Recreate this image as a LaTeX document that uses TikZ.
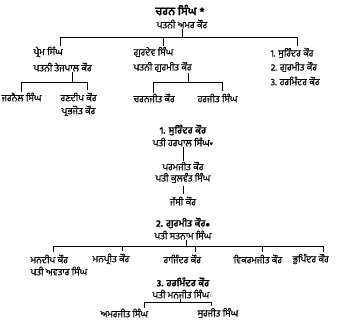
\documentclass[tikz,border=0pt]{standalone}
\usepackage{fontspec}
\newfontfamily\gurmukhi[Script=Gurmukhi, FakeBold=0.5]{Hind Jalandhar}
\newfontfamily\symfont{DejaVu Sans}

\begin{document}
\begin{tikzpicture}[x=1pt,y=-1pt]
\tikzstyle{nm}=[inner sep=0.5pt, font=\gurmukhi\fontsize{9.5}{10}\selectfont]
\tikzstyle{hd}=[inner sep=0.5pt, font=\gurmukhi\bfseries\fontsize{9.5}{10}\selectfont]
\tikzstyle{top}=[inner sep=0.5pt, font=\gurmukhi\bfseries\fontsize{11}{12}\selectfont]
\tikzstyle{ln}=[line width=0.7pt]
\tikzstyle{dr}=[line width=0.7pt, shorten >=1.5pt]
\useasboundingbox (0,0) rectangle (343,324);
	\node[top] (A) at (180,10){ਚਰਨ ਸਿੰਘ *};
	\node[nm] (B) at (182,24){ਪਤਨੀ ਅਮਰ ਕੌਰ};
% first generation
	\node[nm, anchor=west] (P1) at (33,52){ਪ੍ਰੇਮ ਸਿੰਘ};
	\node[nm, anchor=west] (P2) at (33,67){ਪਤਨੀ ਤੇਜਪਾਲ ਕੌਰ};
	\node[nm, anchor=west] (P3) at (1,97){ਜਰਨੈਲ ਸਿੰਘ};
	\node[nm, anchor=west] (P4) at (60,97){ਰਣਦੀਪ ਕੌਰ};
	\node[nm, anchor=west] (P5) at (61,111){ਪ੍ਰਭਜੋਤ ਕੌਰ};
	\node[nm, anchor=west] (G1) at (133,52){ਗੁਰਦੇਵ ਸਿੰਘ};
	\node[nm, anchor=west] (G2) at (133,67){ਪਤਨੀ ਗੁਰਮੀਤ ਕੌਰ};
	\node[nm, anchor=west] (G3) at (133,98){ਚਰਨਜੀਤ ਕੌਰ};
	\node[nm, anchor=west] (G4) at (197,98){ਹਰਜੀਤ ਸਿੰਘ};
	\node[nm, anchor=west] (D1) at (270,53){1. ਸੁਰਿੰਦਰ ਕੌਰ};
	\node[nm, anchor=west] (D2) at (270,67){2. ਗੁਰਮੀਤ ਕੌਰ};
	\node[nm, anchor=west] (D3) at (270,81){3. ਹਰਮਿੰਦਰ ਕੌਰ};
% the daughters
	\node[hd] (M1) at (183,130){1. ਸੁਰਿੰਦਰ ਕੌਰ};
	\node[nm] (M2) at (183,142){ਪਤੀ ਹਰਪਾਲ ਸਿੰਘ{\symfont\scriptsize ▾}};
	\node[nm] (M3) at (183,166){ਪਰਮਜੀਤ ਕੌਰ};
	\node[nm] (M4) at (183,178){ਪਤੀ ਕੁਲਵੰਤ ਸਿੰਘ};
	\node[nm] (M5) at (183,201){ਜੱਸੀ ਕੌਰ};
	\node[hd] (N1) at (183,223){2. ਗੁਰਮੀਤ ਕੌਰ{\symfont\tiny ●}};
	\node[nm] (N2) at (183,235){ਪਤੀ ਸਤਨਾਮ ਸਿੰਘ};
	\node[nm, anchor=west] (K1) at (30,259){ਮਨਦੀਪ ਕੌਰ};
	\node[nm, anchor=west] (K6) at (30,271){ਪਤੀ ਅਵਤਾਰ ਸਿੰਘ};
	\node[nm, anchor=west] (K2) at (92,259){ਮਨਪ੍ਰੀਤ ਕੌਰ};
	\node[nm, anchor=west] (K3) at (163,259){ਰਾਜਿੰਦਰ ਕੌਰ};
	\node[nm, anchor=west] (K4) at (233,259){ਵਿਕਰਮਜੀਤ ਕੌਰ};
	\node[nm, anchor=west] (K5) at (292,259){ਭੁਪਿੰਦਰ ਕੌਰ};
	\node[hd] (H1) at (183,282){3. ਹਰਮਿੰਦਰ ਕੌਰ};
	\node[nm] (H2) at (183,294){ਪਤੀ ਮਨਜੀਤ ਸਿੰਘ{\symfont\scriptsize ◦}};
	\node[nm, anchor=west] (S1) at (100,313){ਅਮਰਜੀਤ ਸਿੰਘ};
	\node[nm, anchor=west] (S2) at (197,313){ਸੁਰਜੀਤ ਸਿੰਘ};
% bars
	\coordinate (t0) at (182,37);
	\coordinate (t1) at (60,37);
	\coordinate (t2) at (163,37);
	\coordinate (t3) at (297,37);
	\coordinate (p0) at (72,82);
	\coordinate (p1) at (21,82);
	\coordinate (p2) at (87,82);
	\coordinate (g0) at (188,82);
	\coordinate (g1) at (153,82);
	\coordinate (g2) at (222,82);
	\coordinate (n0) at (186,246);
	\coordinate (k1) at (53,246);
	\coordinate (k2) at (122,246);
	\coordinate (k3) at (195,246);
	\coordinate (k4) at (262,246);
	\coordinate (k5) at (323,246);
	\coordinate (h0) at (180,302);
	\coordinate (s1) at (144,302);
	\coordinate (s2) at (211,302);
\draw[ln] (B)--(t0) (t1)--(t3);
\draw[dr] (t1)--(t1|-P1.north) (t2)--(t2|-G1.north) (t3)--(t3|-D1.north);
\draw[ln] (p0|-P2.south)--(p0) (p1)--(p2);
\draw[dr] (p1)--(p1|-P3.north) (p2)--(p2|-P4.north);
\draw[ln] (g0|-G2.south)--(g0) (g1)--(g2);
\draw[dr] (g1)--(g1|-G3.north) (g2)--(g2|-G4.north);
\draw[ln, shorten <=2pt, shorten >=2pt] (M2)--(M3) (M4)--(M5);
\draw[ln] (n0|-N2.south)--(n0) (k1)--(k5);
\foreach \i in {1,...,5} \draw[dr] (k\i)--(k\i|-K\i.north);
\draw[ln] (h0|-H2.south)--(h0) (s1)--(s2);
\draw[dr] (s1)--(s1|-S1.north) (s2)--(s2|-S2.north);
\end{tikzpicture}
\end{document}
